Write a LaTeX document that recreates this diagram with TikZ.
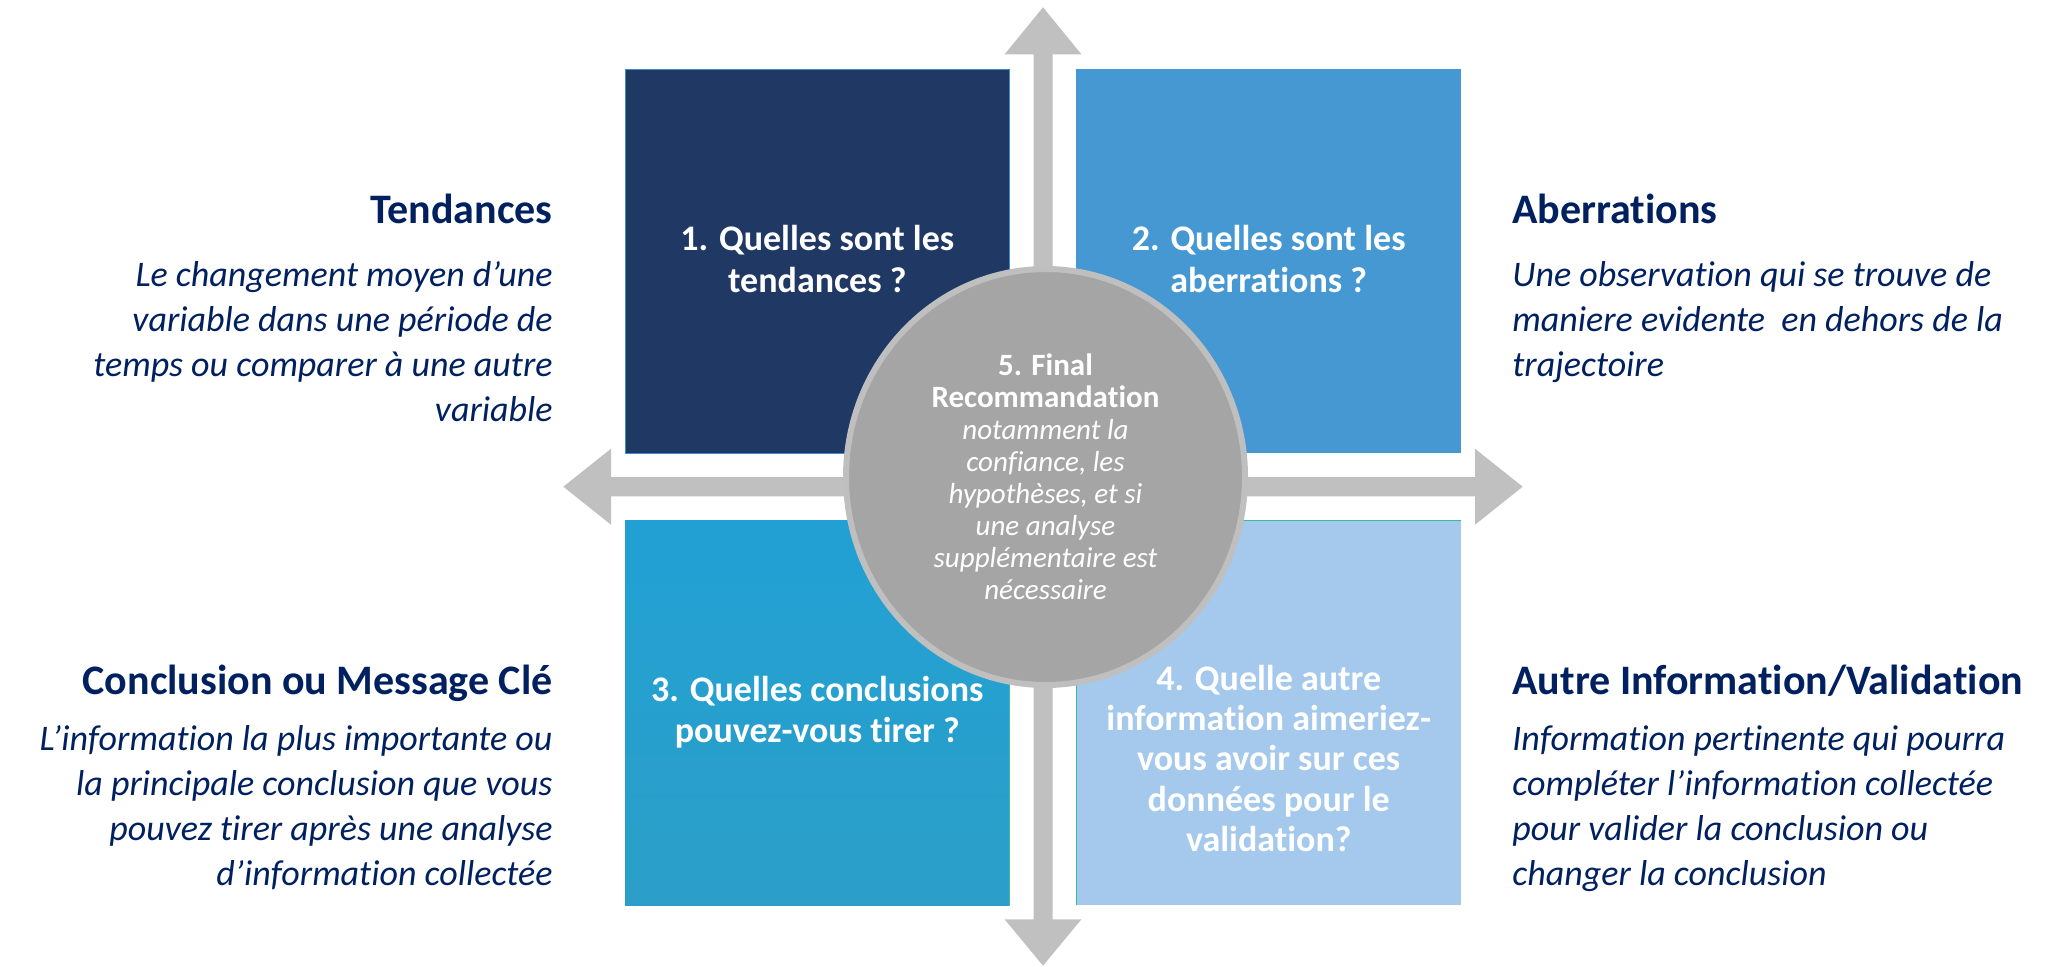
\documentclass[tikz,border=0pt]{standalone}
\usepackage{fontspec}
\setmainfont{Carlito}[Ligatures=CommonOff]
\usetikzlibrary{shapes.geometric}
\definecolor{navy}{HTML}{002060}
\definecolor{sqone}{HTML}{203864}
\definecolor{sqtwo}{HTML}{4698D2}
\definecolor{sqthreetop}{HTML}{22A0D4}
\definecolor{sqthreebot}{HTML}{2B9FC8}
\definecolor{sqfour}{HTML}{A4C9EC}
\definecolor{arrowgray}{HTML}{C0C0C0}
\definecolor{circfill}{HTML}{A5A5A5}
\definecolor{circline}{HTML}{BFBFBF}
\definecolor{edgeblue}{HTML}{3C8DD0}
\definecolor{edgeteal}{HTML}{3DB8A2}
\newcommand{\rlines}[1]{\begin{tabular}[t]{@{}r@{}}#1\end{tabular}}
\newcommand{\llines}[1]{\begin{tabular}[t]{@{}l@{}}#1\end{tabular}}
\newcommand{\clines}[1]{\begin{tabular}[t]{@{}c@{}}#1\end{tabular}}
\begin{document}
\begin{tikzpicture}[x=0.5pt,y=-0.5pt,
  sqbox/.style={rectangle, inner sep=0pt, outer sep=0pt, minimum width=192.3pt, minimum height=192pt, line width=0.4pt},
  headtxt/.style={font=\fontsize{21pt}{25pt}\selectfont\bfseries, text=navy, inner sep=0pt},
  bodytxt/.style={font=\fontsize{18pt}{22.5pt}\selectfont\itshape, text=navy, inner sep=0pt},
  qtxt/.style={font=\fontsize{18pt}{21.2pt}\selectfont\bfseries, text=white, inner sep=0pt},
  qtxtb/.style={font=\fontsize{18pt}{20.2pt}\selectfont\bfseries, text=white, inner sep=0pt},
  edgeline/.style={draw=edgeteal, line width=0.4pt},
  arrowshape/.style={fill=arrowgray}]
\useasboundingbox (0,0) rectangle (2049,966);
% arrows
\coordinate (ctr) at (1043,486.7);
\fill[arrowshape] (1043,7.3) -- (1081.4,54.3) -- (1052.5,54.3) -- (1052.5,919.3) -- (1081.4,919.3) -- (1043,965.7) -- (1004.6,919.3) -- (1033.5,919.3) -- (1033.5,54.3) -- (1004.6,54.3) -- cycle;
\fill[arrowshape] (563.3,486.7) -- (611,448.7) -- (611,477) -- (1475,477) -- (1475,448.7) -- (1522.7,486.7) -- (1475,524.7) -- (1475,496.4) -- (611,496.4) -- (611,524.7) -- cycle;
% squares
\node[sqbox, fill=sqone, draw=edgeblue] (q1) at (817.3,261.3) {};
\node[sqbox, fill=sqtwo] (q2) at (1268.7,261.3) {};
\node[sqbox, minimum height=192.5pt, top color=sqthreetop, bottom color=sqthreebot] (q3) at (817.3,712.5) {};
\node[sqbox, minimum height=192.5pt, fill=sqfour] (q4) at (1268.7,712.5) {};
\draw[edgeline] (q3.north east) -- (q3.south east);
\draw[edgeline] (q4.south west) -- (q4.north west) -- (q4.north east);
% circle
\node[ellipse, fill=circfill, draw=circline, line width=3pt, minimum width=199.5pt, minimum height=208pt, inner sep=0pt] (c5) at (1045.5,477) {};
% square texts
\node[qtxt, anchor=base] (t1) at (817.3,250) {\clines{1. Quelles sont les\\tendances ?}};
\node[qtxt, anchor=base] (t2) at (1268.7,250) {\clines{2. Quelles sont les\\aberrations ?}};
\node[qtxtb, anchor=base] (t3) at (817.3,701.7) {\clines{3. Quelles conclusions\\pouvez-vous tirer ?}};
\node[qtxtb, anchor=base] (t4) at (1268.7,690) {\clines{4. Quelle autre\\information aimeriez-\\vous avoir sur ces\\données pour le\\validation?}};
% circle text
\node[inner sep=0pt, text=white, anchor=base, font=\fontsize{15.5pt}{16pt}\selectfont] (t5) at (1045.5,375) {\clines{\bfseries 5. Final\\\bfseries Recommandation\\\itshape\fontsize{14.5pt}{16pt}\selectfont notamment la\\\itshape\fontsize{14.5pt}{16pt}\selectfont confiance, les\\\itshape\fontsize{14.5pt}{16pt}\selectfont hypothèses, et si\\\itshape\fontsize{14.5pt}{16pt}\selectfont une analyse\\\itshape\fontsize{14.5pt}{16pt}\selectfont supplémentaire est\\\itshape\fontsize{14.5pt}{16pt}\selectfont nécessaire}};
% side headings
\node[headtxt, anchor=base east] (h1) at (553,223.3) {Tendances};
\node[bodytxt, anchor=base east] (b1) at (553,286) {\rlines{Le changement moyen d’une\\variable dans une période de\\temps ou comparer à une autre\\variable}};
\node[headtxt, anchor=base west] (h2) at (1512,223.3) {Aberrations};
\node[bodytxt, anchor=base west] (b2) at (1512,286) {\llines{Une observation qui se trouve de\\maniere evidente\ \ en dehors de la\\trajectoire}};
\node[headtxt, anchor=base east] (h3) at (553,694) {Conclusion ou Message Clé};
\node[bodytxt, anchor=base east] (b3) at (553,750) {\rlines{L’information la plus importante ou\\la principale conclusion que vous\\pouvez tirer après une analyse\\d’information collectée}};
\node[headtxt, anchor=base west] (h4) at (1512,694) {Autre Information/Validation};
\node[bodytxt, anchor=base west] (b4) at (1512,750) {\llines{Information pertinente qui pourra\\compléter l’information collectée\\pour valider la conclusion ou\\changer la conclusion}};
\end{tikzpicture}
\end{document}
